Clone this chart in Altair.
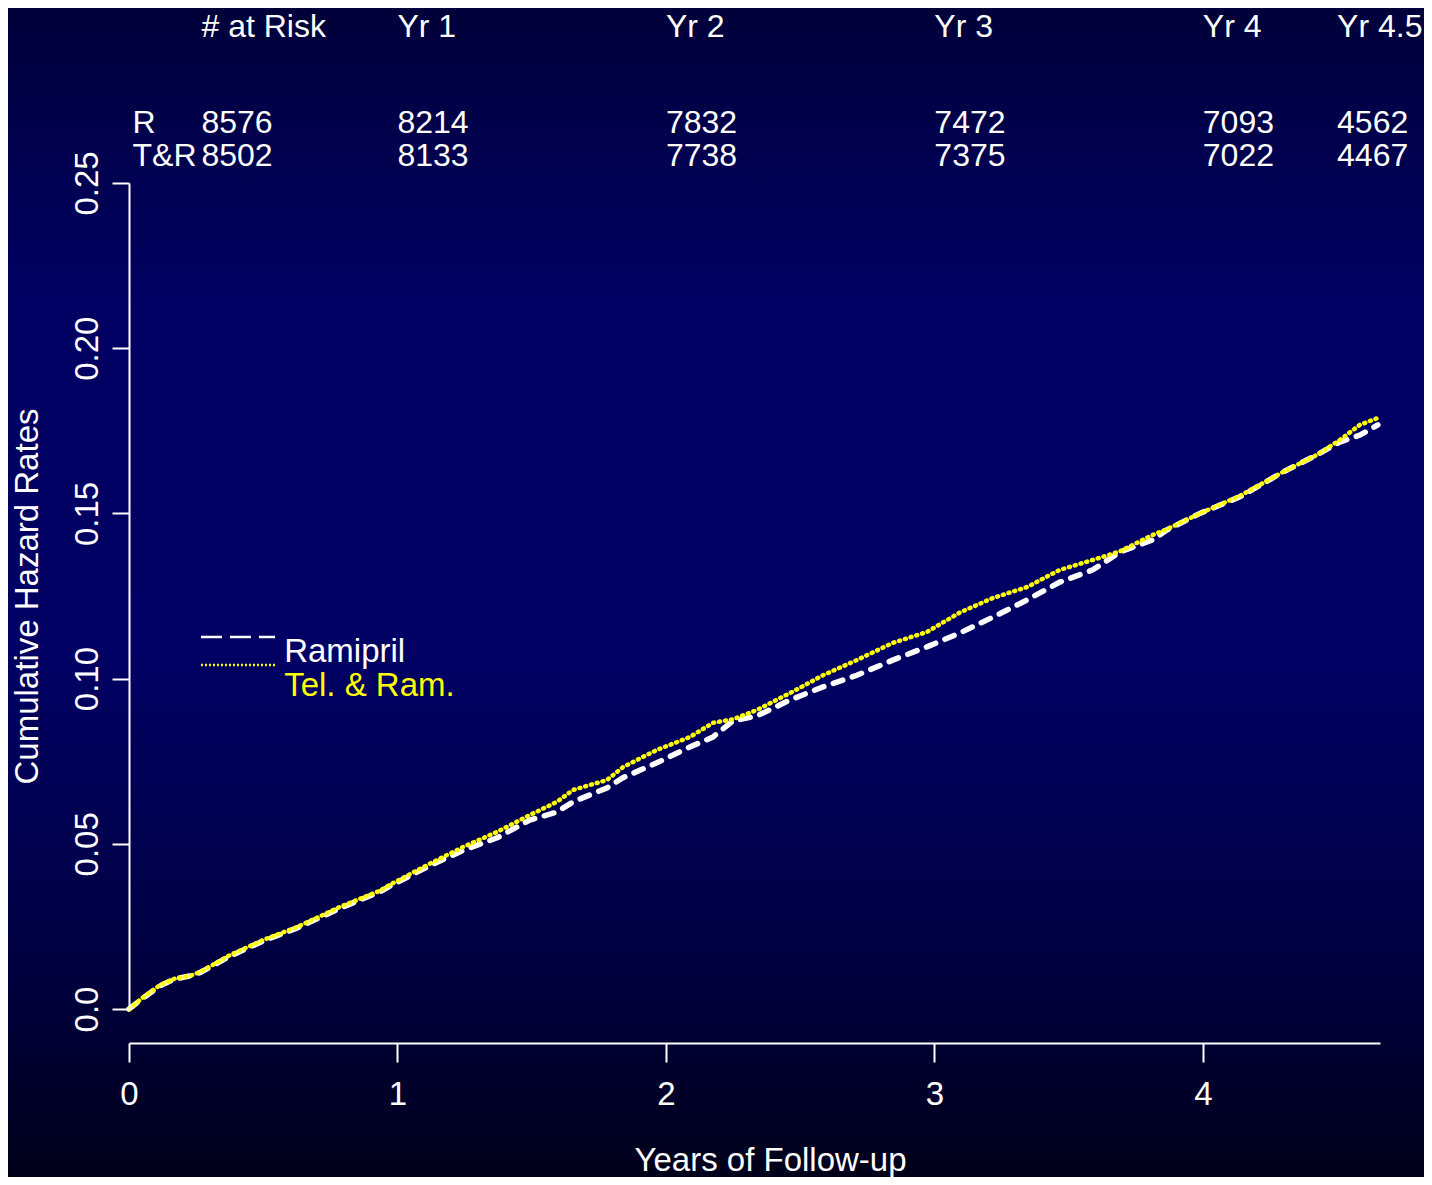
import altair as alt
import pandas as pd

# ---- data ----
years = [0.000, 0.052, 0.115, 0.171, 0.227, 0.264, 0.320, 0.376, 0.500, 0.626,
         0.786, 0.935, 0.972, 1.121, 1.244, 1.371, 1.493, 1.594, 1.654, 1.780,
         1.840, 1.966, 2.089, 2.175, 2.250, 2.339, 2.462, 2.585, 2.711, 2.845,
         2.972, 3.095, 3.218, 3.345, 3.467, 3.590, 3.691, 3.814, 3.866, 3.989,
         4.138, 4.298, 4.425, 4.510, 4.585, 4.652]
ramipril = [0.0000, 0.0033, 0.0070, 0.0091, 0.0100, 0.0110, 0.0135, 0.0160, 0.0206, 0.0245,
            0.0305, 0.0355, 0.0372, 0.0434, 0.0480, 0.0518, 0.0572, 0.0596, 0.0627, 0.0669,
            0.0700, 0.0745, 0.0793, 0.0823, 0.0872, 0.0887, 0.0935, 0.0975, 0.1010, 0.1056,
            0.1096, 0.1138, 0.1186, 0.1238, 0.1292, 0.1329, 0.1383, 0.1420, 0.1450, 0.1500,
            0.1550, 0.1625, 0.1677, 0.1716, 0.1737, 0.1768]
tel_ram = [0.0000, 0.0035, 0.0072, 0.0092, 0.0100, 0.0112, 0.0137, 0.0163, 0.0209, 0.0248,
           0.0309, 0.0358, 0.0376, 0.0440, 0.0490, 0.0536, 0.0587, 0.0627, 0.0663, 0.0693,
           0.0732, 0.0784, 0.0823, 0.0866, 0.0877, 0.0905, 0.0956, 0.1010, 0.1056, 0.1108,
           0.1141, 0.1200, 0.1244, 0.1277, 0.1329, 0.1359, 0.1385, 0.1435, 0.1452, 0.1500,
           0.1553, 0.1625, 0.1677, 0.1722, 0.1768, 0.1789]

series_names = ["Ramipril", "Tel. & Ram."]
series_colors = ["#ffffff", "#ffff00"]

risk_headers = ["# at Risk", "Yr 1", "Yr 2", "Yr 3", "Yr 4", "Yr 4.5"]
risk_col_years = [0.27, 1, 2, 3, 4, 4.5]
risk_R = [8576, 8214, 7832, 7472, 7093, 4562]
risk_TR = [8502, 8133, 7738, 7375, 7022, 4467]
risk_row_labels = ["R", "T&R"]

x_ticks = [0, 1, 2, 3, 4]
y_ticks = [0.0, 0.05, 0.10, 0.15, 0.20, 0.25]

FONT = "Liberation Sans"
FS = 33
FS_TABLE = 32

# ---- tables ----
df_r = pd.DataFrame({"t": years, "h": ramipril})
df_tr = pd.DataFrame({"t": years, "h": tel_ram})

xs = alt.Scale(domain=[0, 4.66], nice=False, zero=False, padding=0)
ys = alt.Scale(domain=[0, 0.25], nice=False, zero=False, padding=0)

W, H = 1251, 826
PAD = {"left": 121, "top": 175, "right": 44, "bottom": 168}

bg = alt.Chart(alt.Data(values=[{}])).mark_rect(
    fill=alt.LinearGradient(
        gradient="linear", x1=0, y1=0, x2=0, y2=1,
        stops=[
            alt.GradientStop(color="#00003a", offset=0.0),
            alt.GradientStop(color="#000062", offset=0.25),
            alt.GradientStop(color="#000064", offset=0.55),
            alt.GradientStop(color="#000040", offset=0.82),
            alt.GradientStop(color="#00001a", offset=1.0),
        ],
    )
).encode(
    x=alt.value(-PAD["left"]), x2=alt.value(W + PAD["right"]),
    y=alt.value(-PAD["top"]), y2=alt.value(H + PAD["bottom"]),
)

x_axis = alt.Axis(
    values=x_ticks, format="d", grid=False, zindex=2, labelFlush=False,
    labelFont=FONT, labelFontSize=FS, labelColor="white", labelPadding=16,
    tickColor="white", tickSize=19, tickWidth=2,
    domainColor="white", domainWidth=2, offset=34,
    title="Years of Follow-up", titleFont=FONT, titleFontSize=FS,
    titleColor="white", titleFontWeight="normal", titlePadding=33,
    titleX=641, titleAlign="center",
)
y_axis = alt.Axis(
    values=y_ticks, grid=False, zindex=2,
    labelExpr="datum.value == 0 ? '0.0' : format(datum.value, '.2f')",
    labelFont=FONT, labelFontSize=FS, labelColor="white",
    labelAngle=270, labelAlign="center", labelBaseline="bottom", labelPadding=8,
    tickColor="white", tickSize=17, tickWidth=2,
    domainColor="white", domainWidth=2,
    title="Cumulative Hazard Rates", titleFont=FONT, titleFontSize=FS,
    titleColor="white", titleFontWeight="normal", titlePadding=27,
)

line_r = alt.Chart(df_r).mark_line(
    color=series_colors[0], strokeWidth=5.5, strokeDash=[10, 10], strokeCap="round"
).encode(
    x=alt.X("t:Q", scale=xs, axis=x_axis),
    y=alt.Y("h:Q", scale=ys, axis=y_axis),
)
line_tr = alt.Chart(df_tr).mark_line(
    color=series_colors[1], strokeWidth=4.5, strokeDash=[1, 5], strokeCap="round"
).encode(
    x=alt.X("t:Q", scale=xs),
    y=alt.Y("h:Q", scale=ys),
)

# legend (anchored in data units)
leg_x0, leg_x1, leg_tx = 0.268, 0.544, 0.578
leg_line_y = [0.1126, 0.1041]
leg_text_y = [0.1050, 0.0947]

leg_r = alt.Chart(pd.DataFrame({"a": [leg_x0], "b": [leg_x1], "y": [leg_line_y[0]]})).mark_rule(
    color=series_colors[0], strokeWidth=2.5, strokeDash=[21, 8]
).encode(x=alt.X("a:Q", scale=xs), x2="b:Q", y=alt.Y("y:Q", scale=ys))
leg_tr = alt.Chart(pd.DataFrame({"a": [leg_x0], "b": [leg_x1], "y": [leg_line_y[1]]})).mark_rule(
    color=series_colors[1], strokeWidth=2.5, strokeDash=[2, 2]
).encode(x=alt.X("a:Q", scale=xs), x2="b:Q", y=alt.Y("y:Q", scale=ys))

leg_text = alt.Chart(pd.DataFrame({
    "x": [leg_tx, leg_tx], "y": leg_text_y, "label": series_names, "c": series_colors
})).mark_text(
    align="left", baseline="alphabetic", font=FONT, fontSize=FS
).encode(
    x=alt.X("x:Q", scale=xs), y=alt.Y("y:Q", scale=ys),
    text="label:N", color=alt.Color("c:N", scale=None),
)

# at-risk table
header_y, rowR_y, rowTR_y, rowlab_x = 0.2941, 0.2651, 0.2551, 0.013
tbl_rows = []
for cx, hdr, r, tr in zip(risk_col_years, risk_headers, risk_R, risk_TR):
    tbl_rows.append({"x": cx, "y": header_y, "s": hdr})
    tbl_rows.append({"x": cx, "y": rowR_y, "s": str(r)})
    tbl_rows.append({"x": cx, "y": rowTR_y, "s": str(tr)})
tbl_rows.append({"x": rowlab_x, "y": rowR_y, "s": risk_row_labels[0]})
tbl_rows.append({"x": rowlab_x, "y": rowTR_y, "s": risk_row_labels[1]})

table = alt.Chart(pd.DataFrame(tbl_rows)).mark_text(
    align="left", baseline="alphabetic", font=FONT, fontSize=FS_TABLE, color="white"
).encode(
    x=alt.X("x:Q", scale=xs), y=alt.Y("y:Q", scale=ys), text="s:N"
)

chart = alt.layer(bg, line_r, line_tr, leg_r, leg_tr, leg_text, table).properties(
    width=W, height=H,
    autosize=alt.AutoSizeParams(type="none"),
    padding=PAD,
    background="#000040",
).configure_view(stroke=None)

chart.save("out.html", embed_options={"renderer": "svg", "actions": False})
